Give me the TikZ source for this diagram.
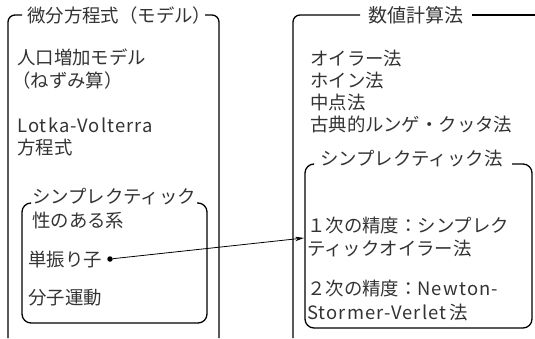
\documentclass[tikz,border=0pt]{standalone}
\usepackage{fontspec}
\setmainfont{Noto Sans CJK JP}
\newfontfamily\latwide[LetterSpace=6]{Noto Sans CJK JP}
\usetikzlibrary{arrows.meta}
\begin{document}
\begin{tikzpicture}[x=1pt,y=-1pt,
  txt/.style={anchor=base west, inner sep=0pt, font=\fontsize{18.4}{22}\selectfont, text=black!80},
  ttl/.style={txt, font=\fontsize{19}{22}\selectfont},
  frame/.style={line width=1.3pt, rounded corners=7pt},
  innerframe/.style={line width=1.3pt, rounded corners=9pt},
  conn/.style={line width=0.8pt, -{Stealth[length=9pt,width=4.5pt]}},
  dotnode/.style={circle, fill=black, inner sep=0pt, minimum size=5.5pt}]
\useasboundingbox (0,0) rectangle (535,338);

% outer frames
\draw[frame] (22,15) -- (8,15) -- (8,338);
\draw[frame] (205,15) -- (219,15) -- (219,338);
\draw[frame] (360,15) -- (293,15) -- (293,338);
\draw[frame] (472,15) -- (535,15);
% inner frames
\draw[innerframe] (30,203) -- (22,203) -- (22,323) -- (207,323) -- (207,203) -- (197,203);
\draw[innerframe] (313,164) -- (305,164) -- (305,328) -- (532,328) -- (532,164) -- (512,164);

% titles
\node[txt] (t1) at (27,22) {微分方程式（モデル）};
\node[ttl] (t2) at (368,22) {数値計算法};

% left texts
\node[txt] (a1) at (17,64) {人口増加モデル};
\node[txt] (a2) at (12,87) {（ねずみ算）};
\node[txt] (a3) at (17,132) {\latwide Lotka-Volterra};
\node[txt] (a4) at (17,154) {方程式};
\node[txt] (s1) at (32,203) {シンプレクティック};
\node[txt] (s2) at (32,227) {性のある系};
\node[txt] (p1) at (28,266) {単振り子};
\node[txt] (p2) at (28,304) {分子運動};

% right texts
\node[txt] (b1) at (310,65) {オイラー法};
\node[txt] (b2) at (310,87) {ホイン法};
\node[txt] (b3) at (310,109) {中点法};
\node[txt] (b4) at (310,131) {古典的ルンゲ・クッタ法};
\node[txt] (r0) at (320,165) {シンプレクティック法};
\node[txt] (r1) at (307,232) {１次の精度：シンプレク};
\node[txt] (r2) at (307,255) {ティックオイラー法};
\node[txt] (r3) at (307,295) {２次の精度：{\latwide Newton-}};
\node[txt] (r4) at (307,319) {{\latwide Stormer-Verlet}\,法};

% connector
\node[dotnode] (dot) at (110,259) {};
\coordinate (tip) at (304,238);
\draw[conn] (dot) -- (tip);
\end{tikzpicture}
\end{document}
